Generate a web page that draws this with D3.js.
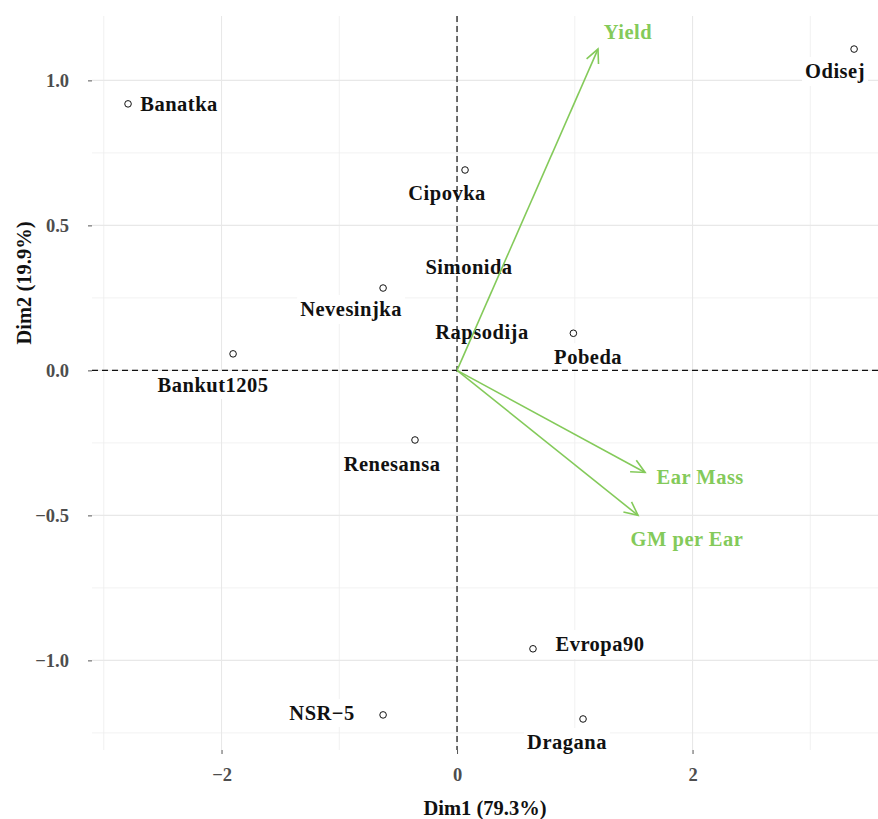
<!DOCTYPE html>
<html>
<head>
<meta charset="utf-8">
<script src="https://cdn.jsdelivr.net/npm/d3@7"></script>
<style>
  body { margin: 0; background: #fff; }
  text { font-family: "Liberation Serif", "DejaVu Serif", serif; }
</style>
</head>
<body>
<svg id="chart" width="878" height="819"></svg>
<script>
// ---- data ----
const varieties = ["Banatka","Odisej","Cipovka","Simonida","Rapsodija","Pobeda","Nevesinjka","Bankut1205","Renesansa","Evropa90","NSR−5","Dragana"];
const dim1 = [-2.794, 3.372, 0.068, 0.042, 0.220, 0.988, -0.628, -1.902, -0.357, 0.645, -0.628, 1.070];
const dim2 = [0.919, 1.108, 0.691, 0.357, 0.136, 0.128, 0.284, 0.057, -0.240, -0.960, -1.188, -1.202];
// label anchor positions (repelled labels), in data units
const labelX = [-2.361, 3.210, -0.085, 0.102, 0.212, 1.113, -0.900, -2.072, -0.552, 1.214, -1.146, 0.934];
const labelY = [0.919, 1.033, 0.612, 0.357, 0.133, 0.046, 0.212, -0.050, -0.322, -0.943, -1.181, -1.281];

const variables = ["Yield","Ear Mass","GM per Ear"];
const varDim1 = [1.197, 1.597, 1.537];
const varDim2 = [1.108, -0.352, -0.500];
const varLabelX = [1.452, 2.065, 1.953];
const varLabelY = [1.167, -0.367, -0.581];

const xTicks = [-2, 0, 2];
const xMinor = [-3, -1, 1, 3];
const yTicks = [-1.0, -0.5, 0.0, 0.5, 1.0];
const yMinor = [-1.25, -0.75, -0.25, 0.25, 0.75];
const xTitle = "Dim1 (79.3%)";
const yTitle = "Dim2 (19.9%)";

// ---- layout ----
const svg = d3.select("#chart");
const pL = 92, pR = 878, pT = 16, pB = 750;
const x = d3.scaleLinear().domain([-3.10, 3.575]).range([pL, pR]);
const y = d3.scaleLinear().domain([-1.309, 1.222]).range([pB, pT]);
const green = "#84ca5a";

// grid
const grid = svg.append("g");
grid.selectAll("line.vmin").data(xMinor).join("line")
  .attr("x1", d => x(d)).attr("x2", d => x(d)).attr("y1", pT).attr("y2", pB)
  .attr("stroke", "#ededed").attr("stroke-width", 0.8);
grid.selectAll("line.hmin").data(yMinor).join("line")
  .attr("y1", d => y(d)).attr("y2", d => y(d)).attr("x1", pL).attr("x2", pR)
  .attr("stroke", "#ededed").attr("stroke-width", 0.8);
grid.selectAll("line.vmaj").data(xTicks).join("line")
  .attr("x1", d => x(d)).attr("x2", d => x(d)).attr("y1", pT).attr("y2", pB)
  .attr("stroke", "#e8e8e8").attr("stroke-width", 1.1);
grid.selectAll("line.hmaj").data(yTicks).join("line")
  .attr("y1", d => y(d)).attr("y2", d => y(d)).attr("x1", pL).attr("x2", pR)
  .attr("stroke", "#e8e8e8").attr("stroke-width", 1.1);

// axes
const xAxis = svg.append("g").attr("transform", `translate(0,${pB})`)
  .call(d3.axisBottom(x).tickValues(xTicks).tickSize(4).tickPadding(14).tickFormat(d3.format("d")));
const yAxis = svg.append("g").attr("transform", `translate(${pL},0)`)
  .call(d3.axisLeft(y).tickValues(yTicks).tickSize(4).tickPadding(19).tickFormat(d3.format(".1f")));
[xAxis, yAxis].forEach(a => {
  a.select(".domain").remove();
  a.selectAll(".tick line").attr("stroke", "#555").attr("stroke-width", 1);
  a.selectAll(".tick text").attr("fill", "#4d4d4d").style("font-size", "18.5px")
    .style("font-weight", "bold").style("font-family", "'Liberation Serif', serif");
});

// axis titles
svg.append("text").attr("x", (pL + pR) / 2).attr("y", 815)
  .attr("text-anchor", "middle").style("font-size", "20.5px").style("font-weight", "bold")
  .attr("fill", "#111").text(xTitle);
svg.append("text").attr("transform", `translate(31,${(pT + pB) / 2 - 100}) rotate(-90)`)
  .attr("text-anchor", "middle").style("font-size", "20.5px").style("font-weight", "bold")
  .attr("fill", "#111").text(yTitle);

// points
const idx = d3.range(varieties.length);
svg.append("g").selectAll("circle").data(idx).join("circle")
  .attr("cx", i => x(dim1[i])).attr("cy", i => y(dim2[i])).attr("r", 3.3)
  .attr("fill", "#fff").attr("stroke", "#111").attr("stroke-width", 1);

// labels with white boxes
const lab = svg.append("g");
idx.forEach(i => {
  const g = lab.append("g");
  const t = g.append("text").attr("x", x(labelX[i])).attr("y", y(labelY[i]))
    .attr("text-anchor", "middle").attr("dy", "0.35em")
    .style("font-size", "20.5px").style("font-weight", "bold").style("letter-spacing", "0.5px")
    .attr("fill", "#111").text(varieties[i]);
  const b = t.node().getBBox();
  g.insert("rect", "text").attr("x", b.x - 3).attr("y", b.y - 3)
    .attr("width", b.width + 6).attr("height", b.height + 6).attr("fill", "#fff");
});

// dashed axes lines
svg.append("line").attr("x1", pL).attr("x2", pR).attr("y1", y(0)).attr("y2", y(0))
  .attr("stroke", "#111").attr("stroke-width", 1.2).attr("stroke-dasharray", "6,4");
svg.append("line").attr("x1", x(0)).attr("x2", x(0)).attr("y1", pT).attr("y2", pB)
  .attr("stroke", "#111").attr("stroke-width", 1.2).attr("stroke-dasharray", "6,4");

// variable arrows
const arr = svg.append("g");
variables.forEach((v, i) => {
  const x0 = x(0), y0 = y(0), x1 = x(varDim1[i]), y1 = y(varDim2[i]);
  arr.append("line").attr("x1", x0).attr("y1", y0).attr("x2", x1).attr("y2", y1)
    .attr("stroke", green).attr("stroke-width", 1.6);
  const ang = Math.atan2(y1 - y0, x1 - x0);
  const L = 15, a = Math.PI / 7;
  const p1 = [x1 - L * Math.cos(ang - a), y1 - L * Math.sin(ang - a)];
  const p2 = [x1 - L * Math.cos(ang + a), y1 - L * Math.sin(ang + a)];
  arr.append("path").attr("d", `M${p1[0]},${p1[1]}L${x1},${y1}L${p2[0]},${p2[1]}`)
    .attr("fill", "none").attr("stroke", green).attr("stroke-width", 1.6);
  arr.append("text").attr("x", x(varLabelX[i])).attr("y", y(varLabelY[i]))
    .attr("text-anchor", "middle").attr("dy", "0.35em")
    .style("font-size", "20.5px").style("font-weight", "bold").style("letter-spacing", "0.5px")
    .attr("fill", green).text(v);
});
</script>
</body>
</html>
